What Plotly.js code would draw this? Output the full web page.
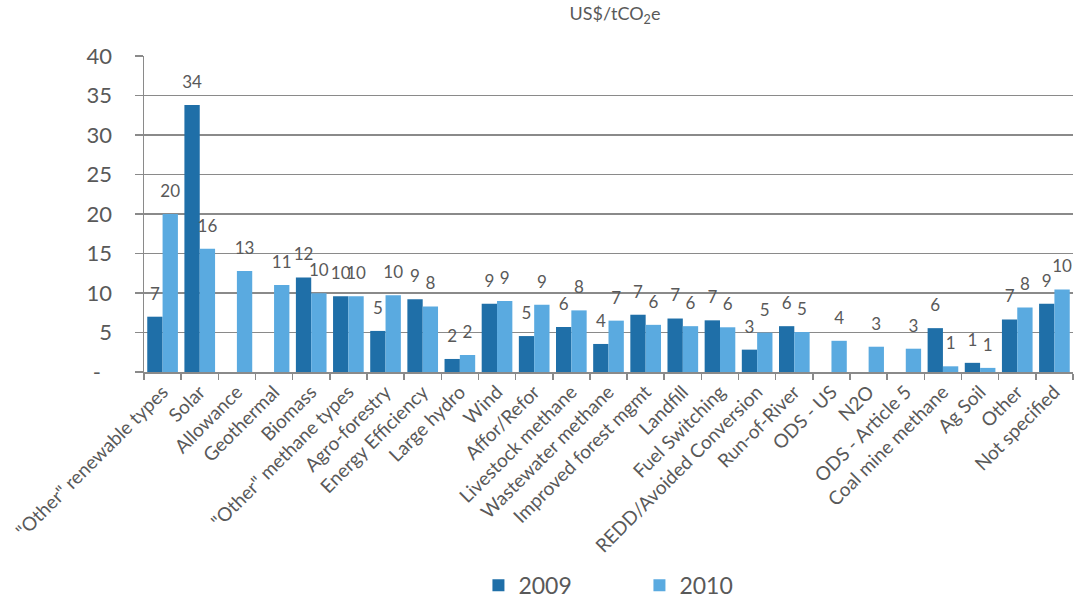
<!DOCTYPE html>
<html>
<head>
<meta charset="utf-8">
<script src="https://cdn.plot.ly/plotly-3.0.1.min.js"></script>
<style>html,body{margin:0;padding:0;background:#fff;}#chart{width:1076px;height:609px;}</style>
</head>
<body>
<div id="chart"></div>
<script>
const categories = ['"Other" renewable types','Solar','Allowance','Geothermal','Biomass','"Other" methane types','Agro-forestry','Energy Efficiency','Large hydro','Wind','Affor/Refor','Livestock methane','Wastewater methane','Improved forest mgmt','Landfill','Fuel Switching','REDD/Avoided Conversion','Run-of-River','ODS - US','N2O','ODS - Article 5','Coal mine methane','Ag Soil','Other','Not specified'];
const values2009 = [7.0,33.8,null,null,11.95,9.6,5.2,9.2,1.65,8.65,4.55,5.7,3.55,7.25,6.77,6.54,2.83,5.8,null,null,null,5.55,1.16,6.65,8.65];
const values2010 = [20.0,15.6,12.8,11.0,9.96,9.6,9.7,8.3,2.15,9.0,8.5,7.8,6.5,5.97,5.8,5.66,4.98,5.06,3.95,3.2,2.95,0.72,0.52,8.17,10.44];
const yTickVals = [0,5,10,15,20,25,30,35,40];
const yTickText = ['-\u00a0\u00a0','5','10','15','20','25','30','35','40'];

const fontFam = 'Lato, "Open Sans", sans-serif';
const txtColor = '#595959';
const gridColor = '#8a8a8a';
const col2009 = '#1f6fa8';
const col2010 = '#5aaae0';

function labelTrace(name, vals) {
  return {type:'scatter', mode:'markers+text', name:name, x:categories, y:vals,
    marker:{size:19, opacity:0, color:'#fff'}, texttemplate:'%{y:.0f}', textposition:'top center',
    textfont:{family:fontFam, size:17, color:txtColor}, showlegend:false, cliponaxis:false, hoverinfo:'skip'};
}

const traces = [
  {type:'bar', name:'2009', x:categories, y:values2009, marker:{color:col2009}},
  {type:'bar', name:'2010', x:categories, y:values2010, marker:{color:col2010}},
  labelTrace('2009', values2009),
  labelTrace('2010', values2010)
];

const layout = {
  width:1076, height:609,
  margin:{l:144, r:3, t:56, b:218},
  paper_bgcolor:'#fff', plot_bgcolor:'#fff',
  font:{family:fontFam, color:txtColor},
  barmode:'group', bargap:0.175, bargroupgap:0,
  scattermode:'group', scattergap:0.175,
  title:{text:'US$/tCO<sub>2</sub>e', x:0.507, xref:'paper', xanchor:'center', y:0.977, yanchor:'middle', yref:'container',
         font:{family:fontFam, size:18, color:txtColor}},
  xaxis:{type:'category', tickangle:-45, tickson:'boundaries', ticks:'outside', ticklen:6, tickcolor:gridColor, tickwidth:1.5,
         showline:true, linecolor:gridColor, linewidth:1.5, showgrid:false,
         tickfont:{family:fontFam, size:19, color:txtColor}, automargin:false},
  yaxis:{range:[0,40], tickvals:yTickVals, ticktext:yTickText, ticks:'outside', ticklen:8, tickcolor:gridColor, tickwidth:1.5,
         showline:true, linecolor:gridColor, linewidth:1.5, showgrid:true, gridcolor:gridColor, gridwidth:1.6,
         zeroline:false, ticklabelstandoff:18, tickfont:{family:fontFam, size:22, color:txtColor}, automargin:false},
  legend:{orientation:'h', x:0.360, xanchor:'left', y:-0.675, yanchor:'middle', entrywidth:116, entrywidthmode:'pixels',
          font:{family:fontFam, size:23, color:txtColor}},
  showlegend:true
};

Plotly.newPlot('chart', traces, layout, {staticPlot:true, displayModeBar:false});
</script>
</body>
</html>
